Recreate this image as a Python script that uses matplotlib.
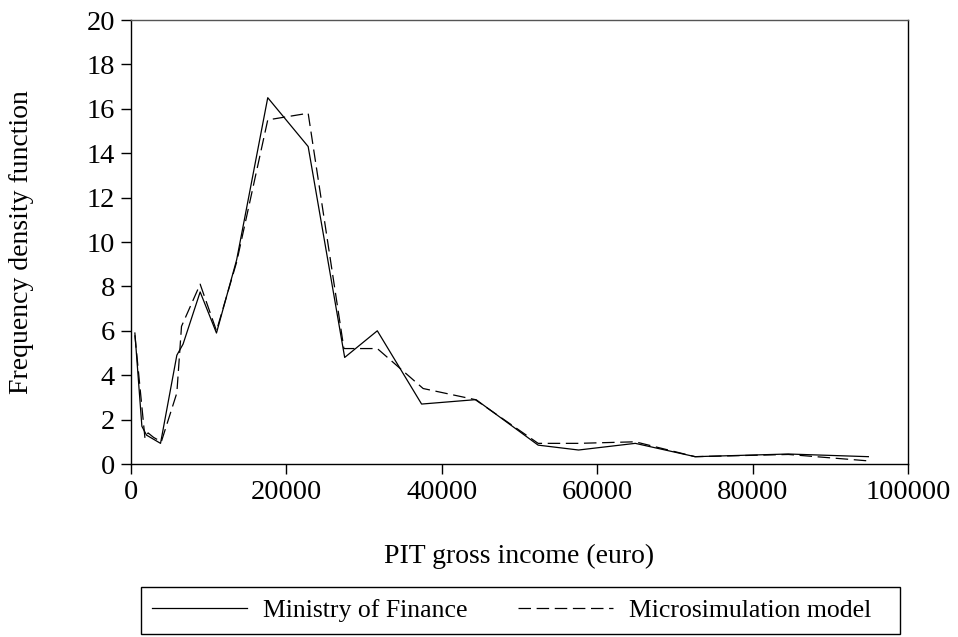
import matplotlib
matplotlib.use("Agg")
from matplotlib import pyplot as plt
from matplotlib.patches import Rectangle

plt.rcParams['font.family'] = ['Liberation Serif', 'DejaVu Serif']

# Ministry of Finance (solid)
mof_x = [500, 1400, 2000, 3800, 5900, 6700, 8900, 11000, 13600, 17600, 22800,
         27500, 31700, 37400, 44400, 52400, 57600, 64900, 72600, 84600, 94900]
mof_y = [5.9, 1.7, 1.3, 0.93, 4.9, 5.4, 7.75, 5.9, 9.2, 16.5, 14.3,
         4.8, 6.0, 2.7, 2.9, 0.85, 0.63, 0.93, 0.33, 0.45, 0.33]

# Microsimulation model (dashed)
msm_x = [500, 1800, 2200, 2900, 3900, 5900, 6500, 8900, 11000, 13600, 17600, 22800,
         27400, 31700, 37600, 44300, 52400, 57600, 64900, 72600, 84600, 94900]
msm_y = [5.8, 1.15, 1.4, 1.2, 1.0, 3.2, 6.2, 8.1, 6.0, 9.1, 15.5, 15.8,
         5.2, 5.2, 3.4, 2.9, 0.93, 0.93, 1.0, 0.33, 0.43, 0.14]

xticks = [0, 20000, 40000, 60000, 80000, 100000]
yticks = list(range(0, 21, 2))

W, H = 958, 637
fig = plt.figure(figsize=(9.58, 6.37), dpi=100)
ax = fig.add_axes([131/W, 1 - 464/H, (908-131)/W, (464-20)/H])

ax.plot(mof_x, mof_y, color='black', lw=0.9, label='Ministry of Finance')
ln, = ax.plot(msm_x, msm_y, color='black', lw=0.9, label='Microsimulation model')
ln.set_dashes((10, 4.5))

ax.set_xlim(0, 100000)
ax.set_ylim(0, 20)
ax.set_xticks(xticks)
ax.set_xticklabels([str(t) for t in xticks])
ax.set_yticks(yticks)
ax.tick_params(direction='out', length=7.5, width=1, labelsize=20.5, pad=4)
for s in ax.spines.values():
    s.set_linewidth(1)
    s.set_color('black')
ax.spines['top'].set_color('#555555')

ax.set_xlabel('PIT gross income (euro)', fontsize=20, labelpad=28)
ax.set_ylabel('Frequency density function', fontsize=20, labelpad=38)

# legend entries without frame, box drawn separately
leg = fig.legend(loc='center', bbox_to_anchor=(511.5/W, 1 - 610.5/H), ncol=2,
                 fontsize=18.5, frameon=False,
                 handlelength=3.7, columnspacing=1.95, handletextpad=0.62,
                 borderpad=0.35, borderaxespad=0)
fig.patches.append(Rectangle((141/W, 1 - 634/H), (900-141)/W, (634-587)/H,
                             transform=fig.transFigure, fill=False,
                             edgecolor='black', lw=1))

fig.savefig('out.png', dpi=100)
